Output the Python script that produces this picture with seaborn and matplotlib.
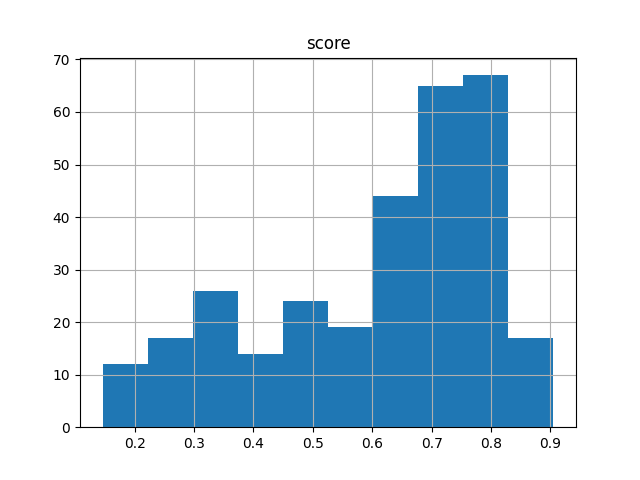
import numpy as np
import pandas as pd
import seaborn as sns
import matplotlib
matplotlib.use("Agg")
import matplotlib.pyplot as plt

# ===== histogram (10 bins) =====
score_min = 0.146
score_max = 0.905
counts = [12, 17, 26, 14, 24, 19, 44, 65, 67, 17]

edges = np.linspace(score_min, score_max, len(counts) + 1)
centers = (edges[:-1] + edges[1:]) / 2
df = pd.DataFrame({"score": centers, "n": counts})

fig, ax = plt.subplots(figsize=(6.4, 4.8), dpi=100)
sns.histplot(data=df, x="score", weights="n", bins=len(counts),
             binrange=(score_min, score_max), ax=ax,
             color="#1f77b4", alpha=1, edgecolor="none", linewidth=0)
ax.grid(True)
ax.set_title("score")
ax.set_xlabel("")
ax.set_ylabel("")
fig.savefig("out.png")
